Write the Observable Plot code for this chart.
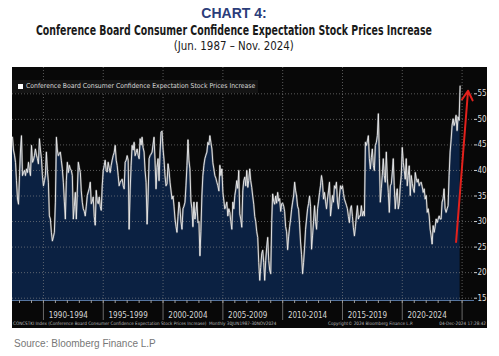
<!DOCTYPE html>
<html>
<head>
<meta charset="utf-8">
<script src="https://cdn.jsdelivr.net/npm/d3@7"></script>
<script src="https://cdn.jsdelivr.net/npm/@observablehq/plot@0.6"></script>
<style>
  html, body { margin: 0; padding: 0; background: #fff; }
  body { width: 499px; height: 356px; position: relative; overflow: hidden; font-family: "Liberation Sans", Arial, sans-serif; }
  .t1 { position: absolute; left: 0; width: 468px; top: 5px; text-align: center; font: bold 14px/16px "Liberation Sans", Arial, sans-serif; color: #2b3d7a; }
  .tl { position: absolute; left: -266px; width: 1000px; text-align: center; white-space: nowrap; }
  .tl span { display: inline-block; transform-origin: 50% 50%; white-space: nowrap; }
  .t2 { top: 22px; font: bold 13.5px/16px "Liberation Sans Narrow", "DejaVu Sans Condensed", sans-serif; color: #1a1a1a; }
  .t3 { top: 38px; font: 12.5px/16px "Liberation Sans Narrow", "DejaVu Sans Condensed", sans-serif; color: #1a1a1a; }
  #panel { position: absolute; left: 12px; top: 67px; width: 475px; height: 261px; background: #080808; overflow: hidden; }
  #chart { position: absolute; left: 0; top: 0; }
  .legend { position: absolute; left: 0; top: 13px; width: 246px; height: 13px; background: #141414; }
  .legend .box { position: absolute; left: 6px; top: 4px; width: 5px; height: 5px; background: #fff; }
  .legend .lab { position: absolute; left: 14px; top: 2px; font: 6.8px/9px "DejaVu Sans Condensed", sans-serif; color: #d8d8d8; white-space: nowrap; }
  .foot { position: absolute; top: 254px; font: 4.6px/6px "DejaVu Sans Condensed", sans-serif; color: #b9b9b9; white-space: nowrap; }
  .source { position: absolute; left: 14px; top: 338px; font: 10px/12px "Liberation Sans", Arial, sans-serif; color: #777; }
</style>
</head>
<body>
<div class="t1">CHART 4:</div>
<div class="tl t2"><span id="sub1">Conference Board Consumer Confidence Expectation Stock Prices Increase</span></div>
<div class="tl t3"><span id="sub2">(Jun. 1987 – Nov. 2024)</span></div>
<div id="panel">
  <div id="chart"></div>
  <div class="legend"><div class="box"></div><div class="lab">Conference Board Consumer Confidence Expectation Stock Prices Increase</div></div>
  <div class="foot" style="left:1px">CONCSTKI Index (Conference Board Consumer Confidence Expectation Stock Prices Increase)&nbsp; Monthly 30JUN1987-30NOV2024</div>
  <div class="foot" style="left:316px">Copyright© 2024 Bloomberg Finance L.P.</div>
  <div class="foot" style="right:1px">04-Dec-2024 17:28:42</div>
</div>
<div class="source">Source: Bloomberg Finance L.P</div>
<script>
// Monthly values, Jun 1987 .. Nov 2024
const startYear = 1987;
const startMonth = 5; // June (0-based)
const values = [
  46.5, 44, 43, 41.6, 38, 34.4, 33.4, 39, 44, 46.8, 39, 39.6,
  40, 39, 40.3, 39.6, 41.6, 40, 39, 44.9, 41.6, 42, 42.9, 44.2,
  43, 42.3, 41.3, 46.2, 44, 42.3, 39, 37, 38, 39, 43.6, 40,
  37.7, 31.1, 30.5, 27.9, 26.2, 27, 27.9, 33.8, 46.5, 44, 42.9, 43.3,
  43.6, 42, 40.3, 37.7, 34, 30.5, 38, 41.6, 39.6, 41, 40.3, 40,
  39, 30.5, 33, 35.7, 30.5, 36, 41.6, 40.5, 39.6, 36, 33.8, 32.5,
  32, 31.1, 33, 35.1, 35.8, 36.5, 37.7, 33.5, 34, 34.8, 31, 29.3,
  36.1, 34, 33.5, 34.8, 33, 32.2, 37, 40, 41, 42, 40, 39.7,
  41.6, 40.5, 39.6, 41, 42, 42.9, 43.5, 44.9, 42, 41, 39, 37,
  37.7, 38, 38.3, 37, 36.4, 41.6, 42, 42.9, 42, 28.5, 36, 41,
  44.9, 44, 45.5, 42.9, 43.5, 44.2, 43, 42.3, 46.2, 45, 46.5, 44.5,
  43.6, 40, 37.7, 29.5, 35, 42.3, 42.9, 43.2, 43.6, 45, 46.5, 42,
  36.4, 40.6, 42.3, 38, 43.6, 47.5, 47.7, 44.2, 42, 39, 37, 37.4,
  41.3, 40, 37.7, 36, 34.4, 35, 33, 30.5, 29, 27.9, 31, 33.8,
  32.5, 30, 28.5, 32.5, 33, 33.8, 37, 41, 46, 42, 40.3, 34,
  32.5, 29, 33.8, 30.5, 32, 33.8, 29.8, 30, 23.3, 28, 35, 39,
  41, 42.3, 43, 43.6, 45.5, 45, 46.8, 45.5, 44.2, 41.5, 40.3, 39,
  38.5, 37.7, 37, 36, 41, 39, 40.3, 35.7, 34, 32.5, 33, 33.8,
  31.1, 32.5, 31.8, 30, 28.5, 33.8, 32.5, 35.1, 36.4, 38, 36.5, 40,
  31.5, 30.5, 28.9, 36, 38, 38.7, 37, 40, 36.7, 38, 40.3, 38,
  36.7, 35, 33.4, 31, 30, 28, 26.9, 22, 18.5, 21, 23.7, 24.4,
  22, 18.5, 22.4, 25, 26.9, 22.4, 20.5, 19.8, 30.2, 35.4, 34, 33.4,
  35, 33.6, 35.7, 34, 34.5, 32, 33.5, 33.6, 33, 32, 29, 28,
  24.5, 27, 29, 30.5, 32.4, 33.8, 35, 37.7, 36, 35, 33, 32.4,
  29.5, 26, 23.5, 19.8, 22, 25, 28.5, 30.5, 32.5, 33.5, 35, 33,
  24.6, 27.2, 30, 33.1, 30, 28.5, 32.5, 34, 35.7, 37, 39, 37.7,
  34.4, 35.7, 34, 32.5, 34.4, 36, 37.7, 31.1, 33, 35.1, 33.8, 37,
  36.5, 37.7, 33.8, 32.5, 35, 37, 36.4, 37, 35.5, 34.4, 33.8, 33.2,
  32.5, 31, 29.8, 32.5, 33.1, 31, 28.8, 27.2, 29, 31.1, 33.1, 30.5,
  31.1, 31.1, 33.1, 31.1, 32, 31.1, 45.5, 44.9, 45.8, 46.8, 42.3, 40.3,
  42.5, 44.2, 41, 40, 44.9, 45.5, 46.8, 51.1, 42.3, 33.8, 36.5, 39,
  42.3, 39, 37.7, 43.6, 38.5, 35.7, 31.8, 37, 37.4, 39.5, 42.3, 37,
  32.5, 35, 36.4, 32.5, 33.5, 37, 39, 44.5, 41.6, 40, 38.3, 42.3,
  37, 39, 40.9, 35.1, 39, 37.5, 36.4, 35.7, 39.6, 38.5, 37.7, 38.3,
  37, 37.5, 37.7, 36.8, 35.7, 36.4, 34.4, 35.1, 31.8, 32.5, 31.1, 28.5,
  27.2, 25.6, 29.2, 27.9, 29, 30.5, 29.8, 30.5, 31.1, 30.5, 30.5, 33.8,
  34.5, 36.4, 32.5, 31.8, 32.5, 33.1, 39, 43.6, 46, 48.8, 50.1, 48.8,
  49.5, 50.8, 47.8, 50.5, 49.8, 56.5
];
const yTicks = [15, 20, 25, 30, 35, 40, 45, 50, 55];
const separatorYears = [1990, 1995, 2000, 2005, 2010, 2015, 2020, 2025];
const tickYears = d3.range(1988, 2026);
const periodStarts = [1990, 1995, 2000, 2005, 2010, 2015, 2020];
const periodLabels = ["1990-1994", "1995-1999", "2000-2004", "2005-2009", "2010-2014", "2015-2019", "2020-2024"];
// annotation arrow (year, month index, value)
const arrowStart = {year: 2024, month: 6, value: 26};
const arrowEnd = {year: 2025, month: 6, value: 55.6};

// fit the condensed subtitle lines to the reference widths
function fitWidth(id, target) {
  const el = document.getElementById(id);
  const w = el.getBoundingClientRect().width;
  if (w > 0) el.style.transform = `scaleX(${target / w})`;
}
fitWidth("sub1", 396);
fitWidth("sub2", 120);

const data = values.map((v, i) => ({date: new Date(Date.UTC(startYear, startMonth + i, 1)), value: v}));
const yr = y => new Date(Date.UTC(y, 0, 1));
const periods = periodStarts.map((s, i) => ({date: new Date(Date.UTC(s + 2, 6, 1)), label: periodLabels[i]}));
const arrows = [{x1: new Date(Date.UTC(arrowStart.year, arrowStart.month, 1)), y1: arrowStart.value,
                 x2: new Date(Date.UTC(arrowEnd.year, arrowEnd.month, 1)), y2: arrowEnd.value}];

const fontCond = "'DejaVu Sans Condensed', 'Liberation Sans Narrow', sans-serif";

const chart = Plot.plot({
  width: 475,
  height: 263,
  marginLeft: 0,
  marginRight: 14,
  marginTop: 0,
  marginBottom: 30,
  style: {background: "transparent", color: "#d0d0d0", fontFamily: fontCond, overflow: "visible"},
  x: {type: "utc", domain: [new Date(Date.UTC(1987, 5, 1)), new Date(Date.UTC(2025, 11, 15))]},
  y: {domain: [14.55, 60.15]},
  marks: [
    Plot.areaY(data, {x: "date", y: "value", fill: "#0b2142", clip: true}),
    Plot.gridY(yTicks, {stroke: "#8a8a8a", strokeOpacity: 0.9, strokeWidth: 0.7, strokeDasharray: "1,2"}),
    Plot.gridX(separatorYears.map(yr), {stroke: "#8a8a8a", strokeOpacity: 0.9, strokeWidth: 0.7, strokeDasharray: "1,2"}),
    Plot.frame({anchor: "bottom", stroke: "#56759f", strokeWidth: 1}),
    Plot.lineY(data, {x: "date", y: "value", stroke: "#8c8c8c", strokeWidth: 2, strokeOpacity: 0.5}),
    Plot.lineY(data, {x: "date", y: "value", stroke: "#eeeeee", strokeWidth: 0.9}),
    Plot.axisY(yTicks, {anchor: "right", tickSize: 3, tickPadding: 1, fontSize: 8, stroke: "#cfcfcf", fill: "#dcdcdc", label: null, tickFormat: d => String(d)}),
    Plot.axisX(separatorYears.map(yr), {tickSize: 20, tickFormat: () => "", stroke: "#6a6a6a", label: null}),
    Plot.axisX(tickYears.map(yr), {tickSize: 3, tickFormat: () => "", stroke: "#9a9a9a", label: null}),
    Plot.text(periods, {x: "date", text: "label", frameAnchor: "bottom", dy: 15, dx: -5, fontSize: 8, fill: "#d6d6d6", lineAnchor: "middle"}),
    Plot.arrow(arrows, {x1: "x1", y1: "y1", x2: "x2", y2: "y2", stroke: "#e3211c", strokeWidth: 2, headLength: 8})
  ]
});
document.getElementById("chart").appendChild(chart);
</script>
</body>
</html>
